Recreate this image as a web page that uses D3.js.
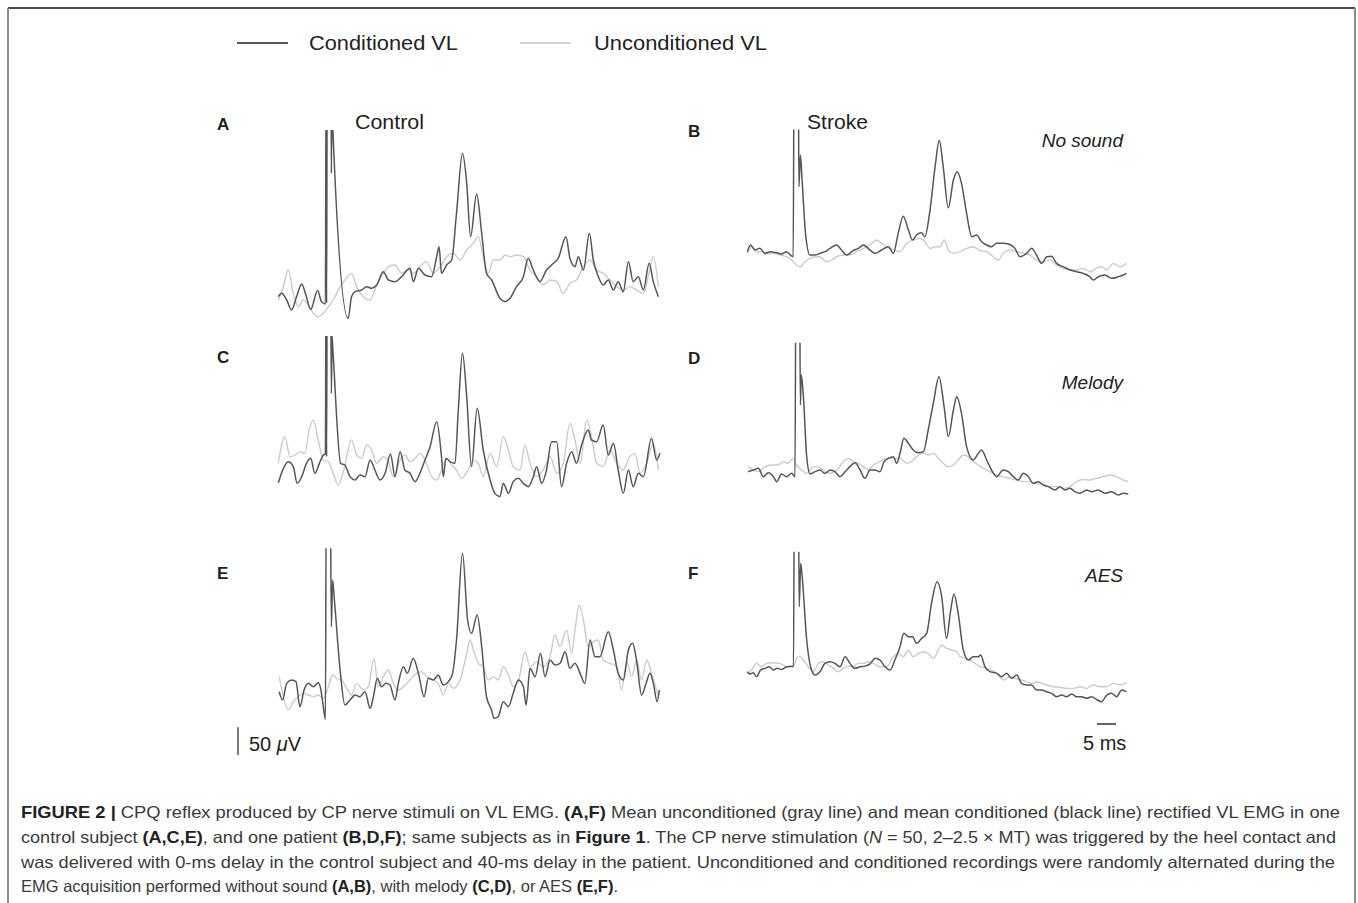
<!DOCTYPE html>
<html>
<head>
<meta charset="utf-8">
<script src="https://cdn.jsdelivr.net/npm/d3@7"></script>
<style>
  body { margin: 0; background: #fff; }
  svg { display: block; }
  text { font-family: "Liberation Sans", Arial, sans-serif; }
</style>
</head>
<body>
<svg id="fig" width="1358" height="903"></svg>
<script>
// traces: [time (ms), rectified EMG (uV)]
// values above the panel ceiling are the clipped stimulus artifact
const condA = [[0,42],[1.1,48],[2.8,36],[4.4,18],[6.1,42],[7.8,65],[9.2,45],[10.8,19],[13.1,53],[14.4,33],[15.7,29],[15.9,420],[16.1,30],[16.3,420],[17.6,420],[17.7,264],[17.9,420],[18.2,342],[23.3,3],[24.4,42],[25.6,51],[27.8,54],[29.4,60],[31.1,57],[32.8,63],[35,87],[36.7,72],[38.9,69],[41.1,78],[43.9,93],[45,69],[46.7,93],[48.9,81],[51.1,78],[52.8,114],[53.6,132],[54.4,84],[56.1,99],[57.8,108],[59.4,192],[61.4,300],[62.8,246],[64.1,150],[66.1,227],[67.8,156],[69.4,84],[71.1,72],[73.9,39],[75.6,33],[77.2,39],[79.4,60],[81.7,78],[83.3,111],[85,90],[87.2,69],[89.4,90],[91.7,102],[93.3,111],[95.9,150],[97.2,111],[98.9,96],[100,114],[101.7,90],[103.7,156],[105,108],[106.7,78],[108.3,63],[110,72],[111.7,54],[113.3,69],[115,51],[116.7,105],[118.3,69],[120,78],[121.7,54],[123.6,102],[125,69],[126.7,42]];
const uncondA = [[0,36],[1.7,60],[3.3,90],[5,48],[6.7,24],[8.3,36],[10,27],[11.7,12],[13.3,6],[15,12],[16.7,24],[18.3,36],[20.6,60],[22.2,72],[24.4,84],[26.1,60],[28.3,42],[30.6,36],[32.8,63],[34.4,78],[36.7,96],[38.9,99],[41.1,84],[43.3,90],[45,84],[47.2,96],[49.4,105],[51.7,84],[53.9,96],[56.1,114],[58.3,120],[60.6,108],[62.8,126],[65,138],[66.7,150],[68.3,114],[70,84],[71.7,108],[73.9,108],[75.6,117],[77.2,114],[79.4,117],[81.7,114],[83.9,90],[86.1,78],[88.3,63],[90.6,72],[92.8,69],[95,48],[97.2,66],[99.4,72],[101.7,96],[103.9,108],[106.1,90],[108.3,84],[110.6,72],[112.8,60],[115,54],[117.2,60],[119.4,54],[121.7,48],[123.3,78],[125,114],[126.7,60]];

const condB = [[0,63],[1.1,75],[2.6,66],[4.2,69],[5.9,60],[7.6,63],[9.8,61],[11.4,59],[13.1,63],[14.8,55],[15.3,54],[15.6,420],[17,420],[17.2,180],[17.7,237],[18.2,198],[19.4,96],[20.9,57],[22.6,57],[24.2,60],[25.9,63],[27.6,69],[29.8,75],[31.4,66],[33.1,57],[35.3,65],[37,69],[38.7,75],[40.9,66],[42.6,60],[44.8,66],[47,72],[48.7,60],[50.3,96],[52,127],[53.7,102],[55.1,84],[56.4,93],[58.1,97],[59.2,90],[60.9,138],[62.6,216],[64,263],[65.3,216],[67,142],[68.7,192],[70,207],[71.4,186],[73.1,132],[74.8,90],[76.4,93],[78.1,81],[79.8,75],[81.4,72],[83.1,78],[85.3,78],[87,77],[89.2,69],[90.9,54],[93.1,60],[94.8,69],[96.4,57],[98.1,42],[99.8,54],[101.4,55],[103.1,42],[105.3,36],[107.6,30],[109.8,27],[112,24],[114.2,18],[115.3,12],[117,18],[119.2,21],[121.4,15],[123.7,18],[125.3,21],[126.4,24]];
const uncondB = [[0,60],[1.4,72],[3.1,63],[4.8,63],[6.4,59],[8.7,60],[10.9,57],[13.1,54],[14.8,48],[16.4,39],[17.6,36],[19.2,45],[20.9,51],[22.6,54],[24.2,54],[26.4,45],[28.1,48],[29.8,54],[32,57],[34.2,57],[36.4,63],[38.7,69],[40.9,75],[43.1,84],[44.8,78],[46.4,72],[48.7,66],[50.9,63],[53.1,78],[55.3,84],[57.6,87],[59.2,81],[60.9,69],[62.6,72],[64.2,72],[65.6,84],[67,66],[68.7,60],[70.9,63],[73.1,69],[75.3,72],[77.6,65],[79.8,63],[82,54],[83.7,48],[85.3,60],[87.6,66],[89.8,63],[92,60],[94.2,57],[96.4,48],[98.7,45],[100.9,48],[103.1,39],[105.3,33],[107.6,31],[109.8,30],[112,33],[114.2,27],[116.4,33],[118.1,36],[119.8,30],[122,42],[124.2,36],[126.4,42]];

const condC = [[0,31],[1.7,57],[3.3,69],[5,60],[6.3,30],[7.8,42],[9.4,66],[10.8,75],[12.2,48],[13.7,66],[15,81],[15.7,83],[15.9,420],[16.1,78],[16.3,420],[17.4,420],[17.7,192],[17.9,295],[18.2,270],[20.8,66],[22.2,63],[23.9,42],[25.6,36],[27.2,45],[28.9,42],[30.6,72],[32.2,54],[33.9,36],[35.6,48],[37.4,83],[38.9,42],[40.6,87],[42.2,54],[43.9,48],[45.6,33],[47.2,48],[48.9,72],[50.6,96],[52.8,141],[54.4,78],[55,42],[55.9,75],[57.2,69],[58.9,66],[60,162],[61.4,264],[62.8,186],[64.4,60],[66.3,165],[68.3,90],[70.6,36],[72.2,12],[73.9,6],[75,30],[76.7,12],[78.3,33],[80,39],[81.7,30],[83.3,24],[85,42],[86.1,60],[87.8,30],[89.4,54],[91.1,105],[92.8,105],[94.4,24],[96.1,66],[97.8,87],[99.4,66],[101.1,99],[103.3,126],[104.4,108],[106.1,105],[108.3,135],[110,81],[111.7,102],[113.3,54],[115,12],[116.7,54],[118.3,24],[120,48],[121.7,42],[124.4,111],[126.1,72],[127.2,84]];
const uncondC = [[0,66],[2.2,114],[3.9,78],[5.6,81],[7.2,87],[8.9,84],[10.3,126],[11.7,144],[13.3,108],[15,72],[16.7,69],[18.3,48],[20,27],[21.7,51],[24.4,108],[26.1,81],[27.8,75],[29.4,99],[31.1,90],[32.8,66],[35,78],[36.7,69],[38.3,42],[40.6,72],[42.2,81],[43.9,69],[45.6,75],[47.2,84],[49.4,66],[51.1,42],[52.8,36],[54.4,54],[56.1,75],[57.8,63],[59.4,54],[61.1,39],[63.3,54],[65,72],[66.7,66],[68.3,42],[70.6,84],[72.8,60],[75,114],[76.7,90],[78.3,60],[80.6,54],[82.2,99],[83.9,66],[86.1,42],[88.3,54],[90.6,78],[92.8,48],[95,66],[97.2,138],[98.9,108],[100.6,66],[102.8,144],[104.4,114],[106.1,66],[108.3,60],[110.6,90],[112.8,66],[115,54],[117.2,78],[118.9,84],[120.6,48],[122.8,66],[125,102],[126.7,54]];

const condD = [[0.3,51],[2,54],[3.7,57],[5.3,42],[7,49],[8.7,42],[9.8,33],[11.4,47],[13.1,42],[14.8,48],[15.9,42],[16.2,420],[17.4,420],[17.7,171],[18,225],[18.7,186],[19.8,78],[20.9,47],[22.6,51],[24.2,54],[25.9,48],[27.6,54],[29.2,51],[30.9,42],[32.6,51],[34.2,60],[35.9,67],[37.6,54],[39.2,39],[40.9,54],[42.6,54],[44.2,51],[45.6,69],[47,75],[48.7,78],[49.8,66],[50.9,84],[52.2,111],[53.7,102],[55.3,90],[57,85],[58.7,87],[60.3,126],[62,174],[63.9,222],[65.6,168],[67,114],[68.7,162],[69.8,186],[71.4,156],[73.1,96],[75.3,72],[77,84],[78.1,90],[79.8,72],[81.4,54],[83.1,42],[85.3,54],[87,51],[88.7,42],[90.3,36],[92,48],[93.7,42],[95.3,30],[97,33],[98.7,27],[100.3,24],[102.6,18],[104.2,24],[105.9,18],[107.6,21],[109.2,15],[110.9,12],[113.1,18],[114.8,15],[117,18],[119.2,12],[121.4,15],[123.7,9],[125.3,12],[127,11]];
const uncondD = [[0.3,60],[2,54],[3.7,51],[5.9,60],[8.1,63],[10.3,63],[12,69],[13.7,66],[15.1,75],[16.4,63],[18.1,54],[19.8,48],[21.4,57],[23.1,61],[25.3,54],[27.6,48],[29.8,54],[32,69],[33.7,75],[35.3,69],[37,66],[38.7,60],[40.3,54],[42,63],[44.2,69],[46.4,75],[48.7,75],[50.9,75],[53.1,66],[54.8,69],[56.4,78],[58.7,84],[60.3,81],[62,84],[63.7,75],[65.3,66],[67,60],[68.7,63],[70.3,72],[72,81],[73.7,78],[75.3,69],[77,63],[78.7,57],[80.9,51],[83.1,45],[85.3,42],[87.6,39],[89.8,36],[92,33],[94.2,33],[96.4,30],[98.7,27],[100.9,24],[103.1,24],[105.3,21],[107.6,24],[109.8,33],[112,37],[114.2,36],[116.4,39],[118.7,42],[120.9,45],[123.1,42],[125.3,36],[127,33]];

const condE = [[0.3,51],[1.4,36],[2.8,66],[4.4,72],[5.9,69],[7.2,24],[8.6,54],[10,66],[11.7,60],[13.3,67],[14.1,57],[15,24],[15.7,1],[16,420],[17.3,420],[17.7,168],[18.1,252],[18.7,216],[20.6,90],[22.2,27],[23.9,36],[25.6,45],[27.2,42],[28.9,51],[30.6,21],[31.7,42],[33,75],[34.4,60],[35.9,66],[37.2,63],[38.9,36],[40,66],[41.7,96],[43,84],[45,111],[46.7,84],[48.6,42],[50,75],[51.7,72],[53.3,81],[55,63],[56.7,69],[58.1,84],[59.4,144],[61.4,300],[63.1,180],[64.4,156],[66.3,189],[67.8,132],[69.4,42],[71.1,18],[71.9,3],[73.3,6],[75,33],[76.7,24],[78.3,48],[80,72],[81.7,60],[82.6,27],[83.9,93],[85.6,78],[87.4,120],[88.9,78],[90.6,108],[92.2,99],[93.9,102],[95.6,123],[97.2,93],[98.9,102],[100.6,84],[102.2,66],[103.9,144],[105.6,114],[107.2,114],[110,159],[111.7,126],[113.3,84],[115,72],[116.7,126],[118.1,138],[119.4,108],[121.1,45],[122.6,66],[123.9,84],[125,66],[126.3,33],[127,54]];
const uncondE = [[0.3,78],[1.7,42],[3.3,18],[5,33],[6.7,42],[8.3,48],[10,45],[11.7,42],[13.3,45],[15,39],[16.7,60],[18.1,81],[19.4,75],[21.1,72],[22.8,57],[24.4,45],[26.1,66],[28.3,54],[30,60],[31.9,111],[33.3,60],[35,78],[36.7,90],[38.3,66],[40,54],[41.7,60],[43.9,72],[46.1,84],[47.8,87],[49.4,78],[51.7,72],[53.3,66],[55,45],[56.7,66],[58.3,57],[60.6,72],[62.8,120],[63.9,144],[65.2,123],[66.7,102],[68.3,96],[70,72],[71.7,78],[73.3,72],[75,96],[76.7,81],[78.3,60],[80,69],[82.2,123],[83.9,96],[86.1,105],[88.3,96],[90.6,114],[92.2,153],[93.9,132],[96.1,162],[97.8,120],[98.9,162],[100.3,207],[101.7,180],[103.3,132],[105,141],[106.7,144],[108.3,108],[110.6,102],[112.8,96],[114.4,54],[116.1,105],[117.8,78],[119.4,108],[121.1,72],[122.8,108],[124.4,84],[126.7,42]];

const condF = [[0,63],[0.9,59],[2,61],[3.1,54],[4.4,66],[5.9,69],[7.3,72],[8.7,66],[10,69],[11.4,67],[13.1,72],[14.8,73],[15.4,72],[15.7,420],[17,420],[17.3,180],[17.8,258],[18.3,234],[19.8,120],[21.1,72],[22.6,57],[24.2,63],[25.9,78],[27.6,81],[29.2,78],[30.9,72],[32.6,90],[34.2,78],[35.9,69],[37.6,72],[39.2,73],[40.9,77],[42.6,87],[44.2,84],[45.9,72],[47.6,66],[49.2,84],[50.9,108],[52.2,132],[53.7,126],[55.1,126],[56.4,114],[58.1,123],[59.8,132],[61.4,186],[63.3,225],[64.8,198],[66.4,123],[67.8,174],[68.9,203],[70.3,168],[72,102],[73.7,84],[75.3,90],[77,90],[77.8,93],[79.2,72],[80.9,63],[83.1,60],[84.8,54],[86.4,60],[88.1,51],[89.8,57],[91.4,42],[93.1,39],[94.8,39],[96.4,30],[98.1,30],[99.8,27],[101.4,24],[103.1,18],[104.8,21],[106.4,18],[108.1,23],[109.8,18],[111.4,18],[113.1,15],[114.8,18],[116.4,13],[118.1,9],[119.8,21],[121.4,24],[123.1,18],[124.8,30],[126.4,27]];
const uncondF = [[0,60],[1.4,66],[3.1,78],[4.8,72],[6.4,78],[8.7,79],[10.9,78],[13.1,72],[15.3,72],[16.4,87],[17.3,91],[18.7,84],[20.3,72],[22,63],[23.7,78],[25.3,81],[27,75],[28.7,69],[30.3,63],[32,69],[33.7,73],[35.3,72],[37,78],[38.7,78],[40.3,81],[42,78],[44.2,72],[46.4,72],[48.7,90],[50.3,96],[52,90],[53.7,102],[55.3,90],[57,96],[58.7,99],[60.3,96],[62,87],[63.7,102],[64.8,111],[66.4,105],[68.1,102],[69.8,99],[70.9,90],[72.6,87],[74.2,84],[75.9,78],[77.6,72],[79.8,69],[81.4,66],[83.7,57],[85.3,48],[87.6,54],[89.2,51],[91.4,48],[93.1,45],[94.8,42],[96.4,45],[98.1,42],[99.8,39],[102,36],[104.2,35],[106.4,33],[108.7,33],[110.9,36],[113.1,33],[115.3,39],[117.6,36],[119.8,36],[122,42],[124.2,39],[126.4,43]];

const legendLabels = ["Conditioned VL", "Unconditioned VL"];
const groupLabels = ["Control", "Stroke"];
const conditionLabels = ["No sound", "Melody", "AES"];

const captionLines = [
  [["FIGURE 2 | ", "b"], ["CPQ reflex produced by CP nerve stimuli on VL EMG. "], ["(A,F)", "b"], [" Mean unconditioned (gray line) and mean conditioned (black line) rectified VL EMG in one"]],
  [["control subject "], ["(A,C,E)", "b"], [", and one patient "], ["(B,D,F)", "b"], ["; same subjects as in "], ["Figure 1", "b"], [". The CP nerve stimulation ("], ["N", "i"], [" = 50, 2\u20132.5 \u00d7 MT) was triggered by the heel contact and"]],
  [["was delivered with 0-ms delay in the control subject and 40-ms delay in the patient. Unconditioned and conditioned recordings were randomly alternated during the"]],
  [["EMG acquisition performed without sound "], ["(A,B)", "b"], [", with melody "], ["(C,D)", "b"], [", or AES "], ["(E,F)", "b"], ["."]]
];

// layout
const UV_PER_PX = 1.8;     // vertical gain, 50 uV ~ 28 px
const SWEEP = 127;         // ms shown per panel
const SWEEP_PX = 381;
const condColor = "#565656";
const uncondColor = "#cbcbcb";

const panels = [
  { id: "A", cond: condA, uncond: uncondA, x0: 278.3, bottom: 320, ceil: 342, lx: 217, ly: 130 },
  { id: "B", cond: condB, uncond: uncondB, x0: 747.3, bottom: 286.7, ceil: 283, lx: 688, ly: 137 },
  { id: "C", cond: condC, uncond: uncondC, x0: 278.3, bottom: 500, ceil: 295, lx: 217, ly: 363 },
  { id: "D", cond: condD, uncond: uncondD, x0: 747.3, bottom: 500, ceil: 283, lx: 688, ly: 364 },
  { id: "E", cond: condE, uncond: uncondE, x0: 278.3, bottom: 720, ceil: 309, lx: 217, ly: 579 },
  { id: "F", cond: condF, uncond: uncondF, x0: 747.3, bottom: 706.7, ceil: 279, lx: 688, ly: 579 }
];

const svg = d3.select("#fig");

// frame round the figure
svg.append("line").attr("x1", 8).attr("x2", 1355).attr("y1", 8).attr("y2", 8)
  .attr("stroke", "#4a4a4a").attr("stroke-width", 2);
svg.append("line").attr("x1", 8).attr("x2", 8).attr("y1", 8).attr("y2", 903)
  .attr("stroke", "#8c8c8c").attr("stroke-width", 2);
svg.append("line").attr("x1", 1355).attr("x2", 1355).attr("y1", 8).attr("y2", 903)
  .attr("stroke", "#8c8c8c").attr("stroke-width", 2);

// legend
const legend = svg.append("g");
[[237, 288, "#222", 309, 149], [520, 571, "#c4c4c4", 594, 173]].forEach((d, i) => {
  legend.append("line")
    .attr("x1", d[0]).attr("x2", d[1]).attr("y1", 43).attr("y2", 43)
    .attr("stroke", d[2]).attr("stroke-width", 1.6);
  legend.append("text")
    .attr("x", d[3]).attr("y", 50)
    .attr("font-size", 20).attr("fill", "#222")
    .attr("textLength", d[4]).attr("lengthAdjust", "spacingAndGlyphs")
    .text(legendLabels[i]);
});

svg.append("text").attr("x", 355).attr("y", 128.5).attr("font-size", 20).attr("fill", "#222")
  .attr("textLength", 69).attr("lengthAdjust", "spacingAndGlyphs").text(groupLabels[0]);
svg.append("text").attr("x", 807).attr("y", 128.5).attr("font-size", 20).attr("fill", "#222")
  .attr("textLength", 61).attr("lengthAdjust", "spacingAndGlyphs").text(groupLabels[1]);

[[1123, 147], [1123, 389], [1123, 582]].forEach((p, i) => {
  svg.append("text")
    .attr("x", p[0]).attr("y", p[1])
    .attr("text-anchor", "end")
    .attr("font-size", 19).attr("font-style", "italic").attr("fill", "#222")
    .text(conditionLabels[i]);
});

const defs = svg.append("defs");

panels.forEach((p) => {
  const x = d3.scaleLinear().domain([0, SWEEP]).range([p.x0, p.x0 + SWEEP_PX]);
  const y = d3.scaleLinear().domain([0, p.ceil]).range([p.bottom, p.bottom - p.ceil / UV_PER_PX]);

  // artifact is cut at the top of each panel
  defs.append("clipPath").attr("id", "clip" + p.id)
    .append("rect")
    .attr("x", p.x0 - 5).attr("width", SWEEP_PX + 12)
    .attr("y", y(p.ceil)).attr("height", p.bottom - y(p.ceil) + 20);

  const line = d3.line()
    .x((d) => x(d[0]))
    .y((d) => y(d[1]))
    .curve(d3.curveMonotoneX);

  const g = svg.append("g").attr("clip-path", "url(#clip" + p.id + ")");
  g.append("path").datum(p.uncond)
    .attr("d", line).attr("fill", "none")
    .attr("stroke", uncondColor).attr("stroke-width", 1.4)
    .attr("stroke-linejoin", "round");
  g.append("path").datum(p.cond)
    .attr("d", line).attr("fill", "none")
    .attr("stroke", condColor).attr("stroke-width", 1.5)
    .attr("stroke-linejoin", "round");

  svg.append("text")
    .attr("x", p.lx).attr("y", p.ly)
    .attr("font-size", 17).attr("font-weight", "bold").attr("fill", "#222")
    .text(p.id);
});

// scale bars
const gainY = d3.scaleLinear().domain([0, 50]).range([755, 755 - 50 / UV_PER_PX]);
svg.append("line").attr("x1", 238).attr("x2", 238).attr("y1", gainY(0)).attr("y2", gainY(50))
  .attr("stroke", "#333").attr("stroke-width", 1.3);
const uvLabel = svg.append("text").attr("x", 249).attr("y", 751)
  .attr("font-size", 20).attr("fill", "#222");
uvLabel.append("tspan").text("50 ");
uvLabel.append("tspan").attr("font-style", "italic").text("\u03bc");
uvLabel.append("tspan").text("V");

svg.append("line").attr("x1", 1097).attr("x2", 1116).attr("y1", 724).attr("y2", 724)
  .attr("stroke", "#333").attr("stroke-width", 1.5);
svg.append("text").attr("x", 1083).attr("y", 749.5).attr("font-size", 20).attr("fill", "#222").text("5 ms");

// caption: the three full lines are justified to the frame width, the last one runs free
const capY = [818, 843, 867.5, 892];
const capLen = [1319, 1315, 1314, null];
captionLines.forEach((parts, i) => {
  const t = svg.append("text")
    .attr("x", 21).attr("y", capY[i])
    .attr("font-size", 16.5).attr("fill", "#3a3a3a");
  if (capLen[i]) t.attr("textLength", capLen[i]).attr("lengthAdjust", "spacingAndGlyphs");
  parts.forEach((s) => {
    const ts = t.append("tspan").text(s[0]);
    if (s[1] === "b") ts.attr("font-weight", "bold").attr("fill", "#222");
    if (s[1] === "i") ts.attr("font-style", "italic");
  });
});
</script>
</body>
</html>
